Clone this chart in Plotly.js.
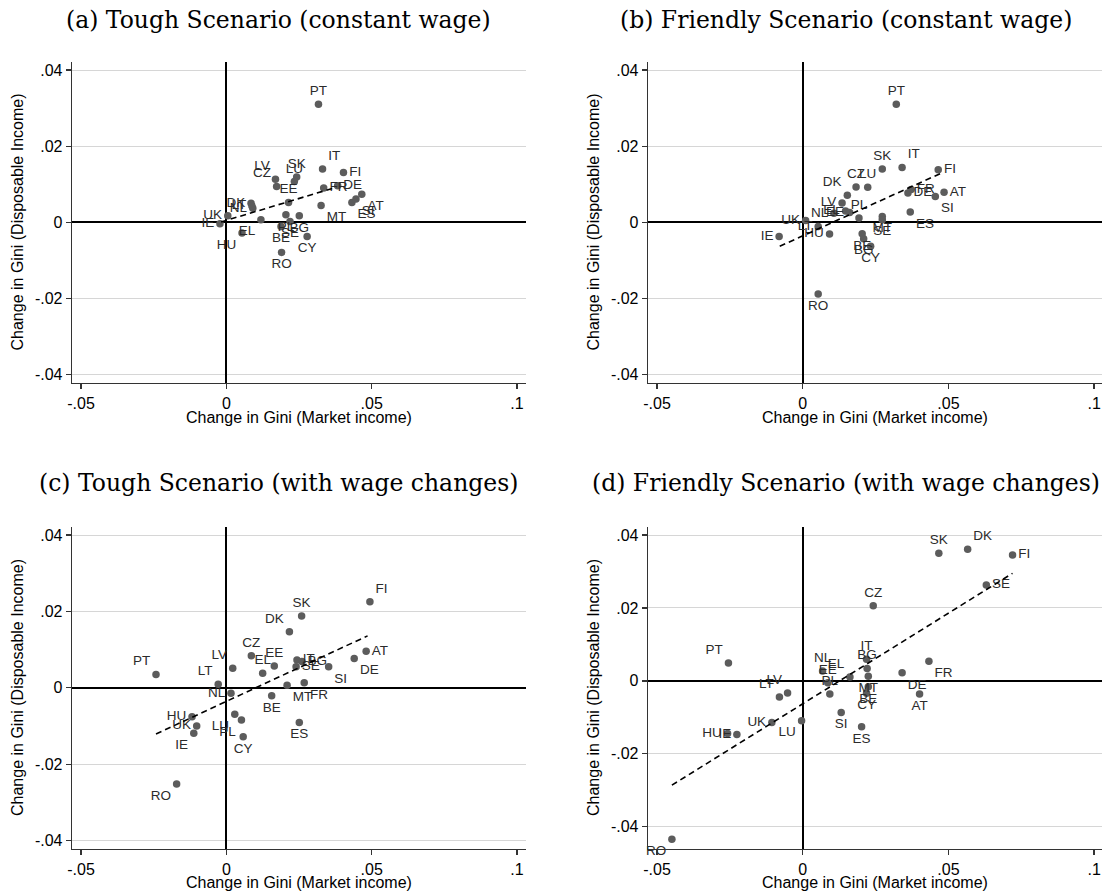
<!DOCTYPE html>
<html>
<head>
<meta charset="utf-8">
<script src="https://cdn.plot.ly/plotly-3.0.1.min.js"></script>
<style>html,body{margin:0;padding:0;background:#fff;}#chart{width:1102px;height:893px;}</style>
</head>
<body>
<div id="chart"></div>
<script>
// ---------- DATA ----------
// Panel (a) Tough Scenario (constant wage)
const countriesA = ["PT","IT","FI","SK","LU","LV","CZ","EE","FR","DE","ES","SI","AT","UK","IE","DK","NL","LT","EL","HU","MT","CY","RO","BE","SE","BG","PL"];
const marketA    = [0.0317,0.0331,0.0403,0.0242,0.0234,0.0169,0.0173,0.0214,0.0335,0.0383,0.0432,0.0446,0.0466,0.0005,-0.0022,0.0085,0.0091,0.0088,0.0119,0.0054,0.0326,0.0278,0.0190,0.0188,0.0219,0.0251,0.0205];
const dispA      = [0.0310,0.0140,0.0131,0.0119,0.0107,0.0113,0.0094,0.0052,0.0090,0.0096,0.0052,0.0061,0.0074,0.0017,-0.0004,0.0050,0.0037,0.0043,0.0007,-0.0028,0.0044,-0.0037,-0.0079,-0.0011,0.0002,0.0017,0.0020];
const fitMarketA = [-0.0018, 0.0378];
const fitDispA   = [0.0001, 0.0092];

// Panel (b) Friendly Scenario (constant wage)
const countriesB = ["PT","SK","IT","FI","CZ","LU","DK","FR","DE","SI","AT","ES","LV","PL","NL","EL","EE","UK","LT","HU","IE","MT","SE","BE","BG","CY","RO"];
const marketB    = [0.0321,0.0273,0.0341,0.0465,0.0183,0.0223,0.0153,0.0372,0.0361,0.0455,0.0485,0.0369,0.0135,0.0193,0.0107,0.0147,0.0161,0.0010,0.0053,0.0092,-0.0081,0.0273,0.0273,0.0204,0.0209,0.0233,0.0053];
const dispB      = [0.0310,0.0140,0.0144,0.0138,0.0093,0.0092,0.0071,0.0086,0.0077,0.0068,0.0079,0.0027,0.0051,0.0011,0.0024,0.0030,0.0026,0.0005,-0.0011,-0.0031,-0.0037,0.0015,0.0007,-0.0030,-0.0043,-0.0063,-0.0188];
const fitMarketB = [-0.0079, 0.0475];
const fitDispB   = [-0.0063, 0.0129];

// Panel (c) Tough Scenario (with wage changes)
const countriesC = ["PT","LV","LT","NL","HU","UK","IE","RO","CZ","EE","EL","LU","PL","CY","BE","MT","FR","ES","SK","DK","IT","BG","SE","SI","DE","AT","FI"];
const marketC    = [-0.0242,0.0022,-0.0028,0.0016,-0.0118,-0.0102,-0.0112,-0.0171,0.0086,0.0165,0.0125,0.0029,0.0052,0.0058,0.0156,0.0209,0.0268,0.0251,0.0259,0.0217,0.0243,0.0260,0.0240,0.0352,0.0440,0.0481,0.0494];
const dispC      = [0.0035,0.0051,0.0009,-0.0014,-0.0076,-0.0100,-0.0119,-0.0252,0.0084,0.0057,0.0038,-0.0069,-0.0084,-0.0128,-0.0021,0.0007,0.0013,-0.0091,0.0188,0.0147,0.0073,0.0069,0.0055,0.0055,0.0077,0.0096,0.0225];
const fitMarketC = [-0.0242, 0.0486];
const fitDispC   = [-0.0121, 0.0136];

// Panel (d) Friendly Scenario (with wage changes)
const countriesD = ["PT","LV","LT","UK","HU","IE","LU","NL","EE","PL","EL","IT","BG","MT","BE","CY","SI","ES","CZ","DE","AT","FR","SK","DK","FI","SE","RO"];
const marketD    = [-0.0255,-0.0052,-0.0080,-0.0106,-0.0258,-0.0226,-0.0004,0.0068,0.0086,0.0093,0.0162,0.0219,0.0221,0.0225,0.0225,0.0219,0.0132,0.0202,0.0242,0.0341,0.0401,0.0433,0.0467,0.0566,0.0720,0.0630,-0.0449];
const dispD      = [0.0049,-0.0033,-0.0044,-0.0114,-0.0144,-0.0147,-0.0109,0.0027,-0.0005,-0.0036,0.0011,0.0059,0.0034,0.0013,-0.0016,-0.0034,-0.0087,-0.0126,0.0206,0.0022,-0.0036,0.0054,0.0350,0.0361,0.0345,0.0263,-0.0434];
const fitMarketD = [-0.0449, 0.0720];
const fitDispD   = [-0.0286, 0.0295];

// Tick labels
const xTickVals = [-0.05, 0, 0.05, 0.1];
const xTickText = ["-.05", "0", ".05", ".1"];
const yTickVals = [-0.04, -0.02, 0, 0.02, 0.04];
const yTickText = ["-.04", "-.02", "0", ".02", ".04"];

const panelTitles = ["(a) Tough Scenario (constant wage)", "(b) Friendly Scenario (constant wage)",
                     "(c) Tough Scenario (with wage changes)", "(d) Friendly Scenario (with wage changes)"];
const xTitle = "Change in Gini (Market income)";
const yTitle = "Change in Gini (Disposable Income)";

// ---------- LABEL PLACEMENT (style) ----------
const posA = ["top center","top right","middle right","top center","top center","top left","top left","top center","middle right","middle right","bottom right","bottom right","bottom right","middle left","middle left","middle left","middle left","middle left","bottom left","bottom left","bottom right","bottom center","bottom center","bottom center","bottom center","bottom center","bottom center"];
const posB = ["top center","top center","top right","middle right","top center","top center","top left","middle right","middle right","bottom right","middle right","bottom right","middle left","top center","middle left","middle left","middle left","middle left","middle left","middle left","middle left","bottom center","bottom center","bottom center","bottom center","bottom center","bottom center"];
const posC = ["top left","top left","top left","middle left","middle left","middle left","bottom left","bottom left","top center","top center","top center","bottom left","bottom left","bottom center","bottom center","bottom right","bottom right","bottom center","top center","top left","middle right","middle right","middle right","bottom right","bottom right","middle right","top right"];
const posD = ["top left","top left","top left","middle left","middle left","middle left","bottom left","top center","top center","top center","top left","top center","top center","bottom center","bottom center","bottom center","bottom center","bottom center","top center","bottom right","bottom center","bottom right","top center","top right","middle right","middle right","bottom left"];

// ---------- LAYOUT ----------
const W = 1102, H = 893;
const fx = p => p / W;
const fy = p => 1 - p / H;

const fontSans = "Liberation Sans, Arial, sans-serif";
const fontSerif = "DejaVu Serif, serif";

function pointTrace(xs, ys, names, pos, xa, ya) {
  return {
    type: "scatter", mode: "markers+text", x: xs, y: ys, text: names, textposition: pos,
    xaxis: xa, yaxis: ya, cliponaxis: false,
    marker: { color: "#5c5c5c", size: 7.5 },
    textfont: { family: fontSans, size: 13.5, color: "#2b2b2b" },
    hoverinfo: "skip", showlegend: false
  };
}
function fitTrace(xs, ys, xa, ya) {
  return {
    type: "scatter", mode: "lines", x: xs, y: ys, xaxis: xa, yaxis: ya,
    line: { color: "#000", width: 1.6, dash: "6px,4px" },
    hoverinfo: "skip", showlegend: false
  };
}

const data = [
  pointTrace(marketA, dispA, countriesA, posA, "x", "y"),
  fitTrace(fitMarketA, fitDispA, "x", "y"),
  pointTrace(marketB, dispB, countriesB, posB, "x2", "y2"),
  fitTrace(fitMarketB, fitDispB, "x2", "y2"),
  pointTrace(marketC, dispC, countriesC, posC, "x3", "y3"),
  fitTrace(fitMarketC, fitDispC, "x3", "y3"),
  pointTrace(marketD, dispD, countriesD, posD, "x4", "y4"),
  fitTrace(fitMarketD, fitDispD, "x4", "y4")
];

function xAxis(domain, range, anchor) {
  return {
    domain: domain, range: range, anchor: anchor,
    tickmode: "array", tickvals: xTickVals, ticktext: xTickText,
    showline: true, linecolor: "#333", linewidth: 1.3, mirror: false,
    ticks: "outside", ticklen: 5, tickwidth: 1.3, tickcolor: "#333",
    showgrid: false, zeroline: true, zerolinecolor: "#000", zerolinewidth: 1.8,
    tickfont: { family: fontSans, size: 16, color: "#000" }, fixedrange: true
  };
}
function yAxis(domain, range, anchor) {
  return {
    domain: domain, range: range, anchor: anchor,
    tickmode: "array", tickvals: yTickVals, ticktext: yTickText,
    showline: true, linecolor: "#333", linewidth: 1.3, mirror: false,
    ticks: "outside", ticklen: 5, tickwidth: 1.3, tickcolor: "#333",
    showgrid: true, gridcolor: "#d6d6d6", gridwidth: 1,
    zeroline: true, zerolinecolor: "#000", zerolinewidth: 1.8,
    tickfont: { family: fontSans, size: 16, color: "#000" }, fixedrange: true
  };
}

const colL = [fx(72), fx(526)];
const colR = [fx(648), 1];
const rowT = [fy(383), fy(62)];
const rowB = [fy(849), fy(527)];

const annotations = [];
function addText(text, x, y, opts) {
  annotations.push(Object.assign({
    text: text, x: fx(x), y: fy(y), xref: "paper", yref: "paper",
    showarrow: false, xanchor: "center", yanchor: "middle",
    font: { family: fontSans, size: 16, color: "#000" }
  }, opts || {}));
}
// panel titles
const serifTitle = { font: { family: fontSerif, size: 23.5, color: "#000" } };
addText(panelTitles[0], 278, 20, serifTitle);
addText(panelTitles[1], 846, 20, serifTitle);
addText(panelTitles[2], 278, 483, serifTitle);
addText(panelTitles[3], 846, 483, serifTitle);
// axis titles
addText(xTitle, 299, 417);
addText(xTitle, 875, 417);
addText(xTitle, 299, 882);
addText(xTitle, 875, 882);
addText(yTitle, 17, 222.5, { textangle: -90 });
addText(yTitle, 593, 222.5, { textangle: -90 });
addText(yTitle, 17, 688, { textangle: -90 });
addText(yTitle, 593, 688, { textangle: -90 });

const layout = {
  width: W, height: H, margin: { l: 0, r: 0, t: 0, b: 0 },
  paper_bgcolor: "#fff", plot_bgcolor: "#fff",
  showlegend: false, hovermode: false,
  xaxis:  xAxis(colL, [-0.0531, 0.1031], "y"),
  yaxis:  yAxis(rowT, [-0.0422, 0.0421], "x"),
  xaxis2: xAxis(colR, [-0.0531, 0.1027], "y2"),
  yaxis2: yAxis(rowT, [-0.0422, 0.0421], "x2"),
  xaxis3: xAxis(colL, [-0.0531, 0.1031], "y3"),
  yaxis3: yAxis(rowB, [-0.0422, 0.0421], "x3"),
  xaxis4: xAxis(colR, [-0.0531, 0.1027], "y4"),
  yaxis4: yAxis(rowB, [-0.0461, 0.0422], "x4"),
  annotations: annotations
};

Plotly.newPlot("chart", data, layout, { staticPlot: true, displayModeBar: false });
</script>
</body>
</html>
